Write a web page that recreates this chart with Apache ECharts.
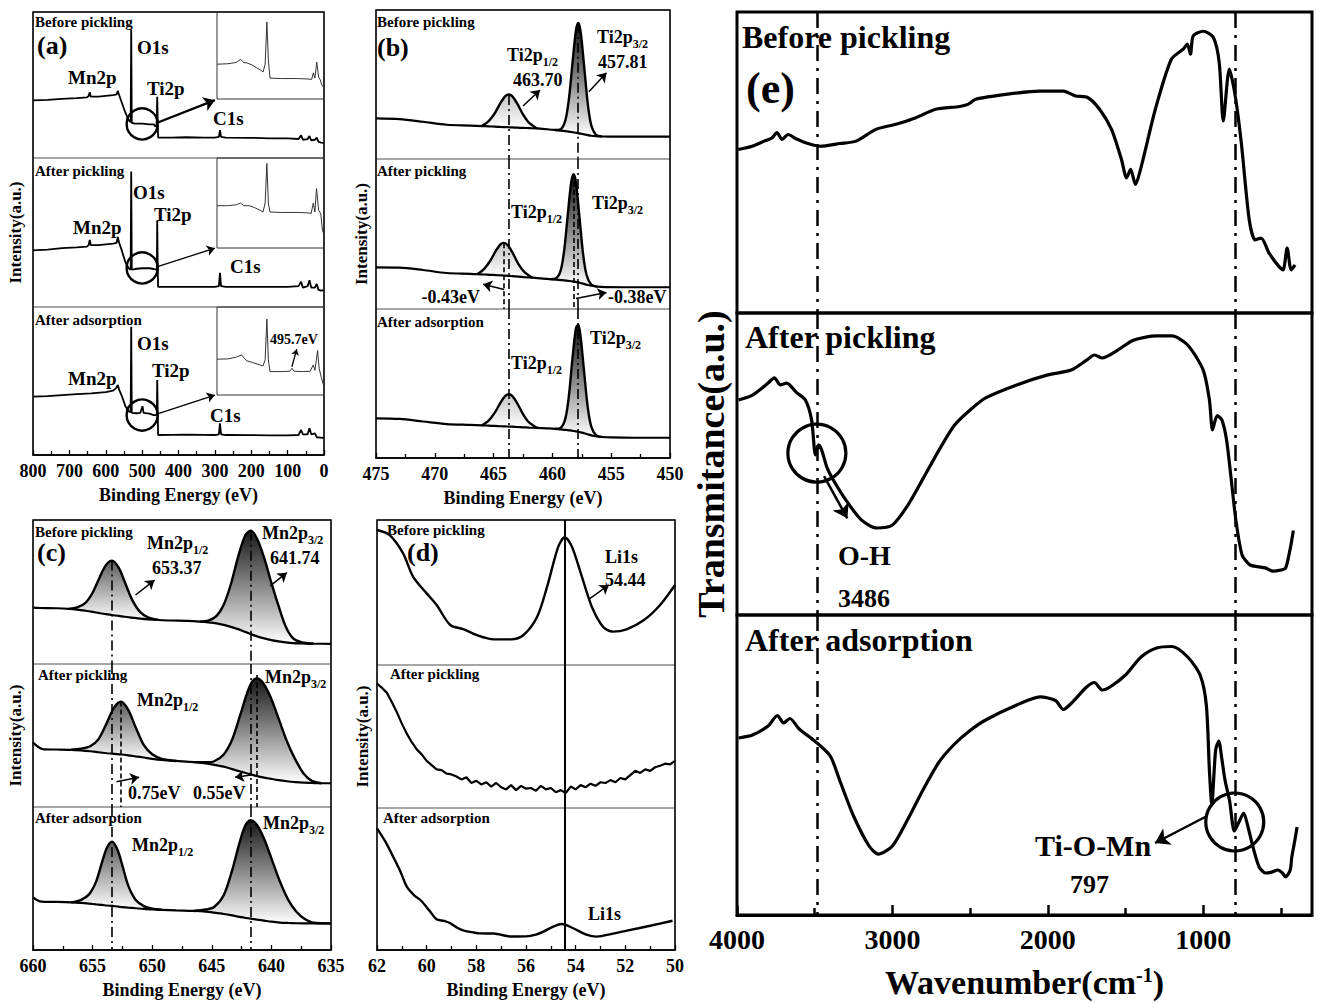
<!DOCTYPE html>
<html>
<head>
<meta charset="utf-8">
<title>XPS and FTIR spectra</title>
<script src="https://cdn.jsdelivr.net/npm/echarts@6/dist/echarts.min.js"></script>
<style>
  html, body { margin: 0; padding: 0; background: #fff; }
  #chart { width: 1329px; height: 1003px; }
</style>
</head>
<body>
<div id="chart"></div>
<script>
// ---------- (a) XPS survey: [binding energy (eV), relative intensity]
const surveyBefore = [[800,39.5],[760,39.8],[720,40.5],[680,41],[652,41.5],[647,42.5],[644,45],[641,42],[620,42],[600,42.5],[580,43],[570,43.5],[567,46],[563,43],[556,38],[546,31],[537,26],[531.5,24.5],[530,88],[528.5,24],[520,23.5],[500,23.5],[480,23],[468,23],[463,21.5],[460,23],[458.5,42],[457,24],[456,14],[420,14],[380,14.2],[330,14],[300,14],[289,14.5],[286,19],[283,14.5],[270,14],[200,13.8],[150,13.5],[100,13.5],[70,13],[63,15.5],[58,12.5],[45,13],[40,15],[35,12],[25,12.5],[20,14],[15,11],[8,10.5],[0,10.3]];
const surveyPickled = [[800,38],[760,38.5],[720,39.5],[680,40],[652,40.5],[647,41.5],[644,45],[641,41.5],[620,41.5],[600,42],[580,42.5],[570,43],[567,47],[563,43],[556,38],[546,30],[537,26],[531.5,25],[530,91],[528.5,25],[520,25.5],[500,26],[480,26],[468,25.5],[462,25],[459.5,26],[458.5,58],[457,25],[456,13.5],[420,13.5],[380,13.5],[330,13.5],[300,13.5],[289,14],[286,23],[283,14],[270,13.5],[200,13.5],[150,13.5],[100,13.5],[70,14],[63,17],[58,13],[45,14],[40,18],[35,13],[25,13],[20,15.5],[15,11.5],[8,11],[0,11.4]];
const surveyAdsorbed = [[800,39.4],[760,39.8],[720,40.5],[680,41.2],[640,41.7],[600,42.5],[580,43.5],[572,45],[567,47.3],[563,44],[556,40],[546,33],[537,29.5],[531.5,29],[530,86.7],[528.5,28.5],[515,28.2],[505,28.5],[499,33],[496,28.5],[480,28],[468,27],[462,27],[459.5,27.5],[458.5,50.7],[457,27],[456,13.5],[420,13.6],[380,13.8],[330,13.6],[300,13.5],[289,14],[286,21.4],[283,14],[270,13.5],[200,13.4],[150,13.3],[100,13.3],[70,13.5],[63,16.9],[58,14],[45,14],[40,18],[35,14],[25,14.6],[20,12],[10,11.8],[0,11.5]];
// insets: magnified window, x in % of inset width
const insetBefore = [[0,40],[10,40.5],[18,42],[22,45.5],[25,42],[28,41.5],[33,39],[37,36],[41,33],[43,31],[45,40],[46.6,88.5],[48,45],[49.5,24],[60,23.5],[75,23.5],[85,23],[88.5,22.5],[90,30],[91.5,24],[93.2,42.5],[95,25],[96.5,22],[98,16],[100,12.5]];
const insetPickled = [[0,47],[10,47],[18,48],[22,50],[25,47],[30,47],[35,45],[40,42],[43,40],[45,50],[46.6,94],[48,50],[49.5,40],[60,39.5],[75,39.5],[85,39],[88,38.5],[90,50],[91.5,40],[93,66],[95,42],[97,38],[98.5,20],[100,15]];
const insetAdsorbed = [[0,40.7],[10,41],[18,43],[23,45.6],[26,41],[28,38.8],[33,37],[40,34.2],[43,33],[45,40],[46.6,86.3],[48,40],[49.5,26.6],[60,26.6],[68,27],[70,30.4],[72,27],[80,26.6],[87,27],[90,34.2],[91.5,28],[94,50.6],[95.5,30],[97.5,20],[99.5,11.4]];

// ---------- (b) Ti2p: energies, background and fitted components (height above background)
const tiE1 = [475,473,471,469,467,466,465.4,464.9,464.4,464.0,463.7,463.4,463.0,462.5,462.0,461.3,460.5,459.8,459.3,458.9,458.6,458.3,458.0,457.8,457.6,457.3,457.0,456.7,456.3,455.8,455,453,450];
const tiBg1 = [27.3,26.8,25,23,22.4,22.1,21.9,21.7,21.5,21.4,21.3,21.2,21.0,20.9,20.7,20.5,20,19.5,19,18.7,18.4,18.0,17.6,17.3,17.0,16.5,16.0,15.6,15.3,15.1,15,15,15];
const tiHalf1 = ['-','-','-','-','-',0,3.7,9,16.3,20.8,22,20.8,16.3,9,3.7,0,'-','-','-','-','-','-','-','-','-','-','-','-','-','-','-','-','-'];
const tiThree1 = ['-','-','-','-','-','-','-','-','-','-','-','-','-','-','-','-','-',0,1,7.2,21.6,45.7,68.5,74,68.5,45.7,21.6,7.2,1,0,'-','-','-'];
const tiE2 = [475,473,471,469,467,466.4,465.8,465.3,464.8,464.4,464.13,463.8,463.4,462.9,462.4,461.7,460.8,460.2,459.7,459.3,459.0,458.7,458.4,458.19,458.0,457.7,457.4,457.1,456.7,456.2,455.5,453,450];
const tiBg2 = [27.8,27.6,26,24,23.4,23.2,23,22.8,22.6,22.4,22.3,22.1,21.9,21.6,21.3,20.9,20.3,19.9,19.6,19.3,19.1,18.8,18.5,18.3,18.0,17.5,16.9,16.2,15.5,14.9,14.6,14.5,14.5];
const tiHalf2 = ['-','-','-','-','-',0,3.8,9.2,16.3,20.9,21.8,20.5,15.8,8.5,3.5,0,'-','-','-','-','-','-','-','-','-','-','-','-','-','-','-','-','-'];
const tiThree2 = ['-','-','-','-','-','-','-','-','-','-','-','-','-','-','-','-','-',0,0.8,6.3,19.8,43.4,66,71.5,66.5,44,20.4,6.6,0.8,0,'-','-','-'];
const tiE3 = tiE1;
const tiBg3 = [26.6,26.2,24.5,22.8,22.2,21.9,21.7,21.5,21.3,21.2,21.1,21.0,20.8,20.6,20.4,20.2,19.9,19.6,19.2,18.9,18.6,18.3,17.9,17.6,17.2,16.6,15.9,15.2,14.6,14.1,13.8,13.6,13.6];
const tiHalf3 = ['-','-','-','-','-',0,3.6,8.9,16.1,20.5,21.7,20.5,16.1,8.9,3.6,0,'-','-','-','-','-','-','-','-','-','-','-','-','-','-','-','-','-'];
const tiThree3 = ['-','-','-','-','-','-','-','-','-','-','-','-','-','-','-','-','-',0,1,7.5,23,48,69,72,64,41,18.5,6,0.8,0,'-','-','-'];
const tiPeaksBefore = [463.70, 457.81];
const tiPeaksPickled = [464.13, 458.19];

// ---------- (c) Mn2p
const mnE1 = [660,659.5,658,657,656.3,655.6,655.0,654.4,653.9,653.37,652.8,652.3,651.7,651.0,650.3,649.5,648.5,647,646,645.3,644.6,644.0,643.4,642.8,642.2,641.74,641.2,640.6,640.0,639.4,638.8,638.2,637.5,636.5,635];
const mnBg1 = [39.1,39,38.7,38.3,37.8,37,36.2,35.3,34.6,34,33.4,32.8,32.2,31.5,31,30.6,30.2,29.9,29.4,28.9,28.2,27.2,25.8,24.2,22.3,20.8,19.2,17.8,16.6,15.7,15,14.5,14.3,14.1,14];
const mnHalf1 = ['-','-','-',0,1.5,5.5,13.3,25,33.9,37.8,33.3,24.1,12.7,4.5,1.2,0,'-','-','-','-','-','-','-','-','-','-','-','-','-','-','-','-','-','-','-'];
const mnThree1 = ['-','-','-','-','-','-','-','-','-','-','-','-','-','-','-','-','-','-',0,1.2,5.2,14,29.6,50,67,71.8,67.8,55.7,39.7,24.6,11,3.5,0.8,0,'-'];
const mnE2 = [660,659.1,658,656.8,656.0,655.2,654.5,653.8,653.2,652.62,652.0,651.4,650.7,650.0,649.2,648,646.5,645.5,644.8,644.0,643.3,642.6,642.0,641.6,641.19,640.7,640.1,639.4,638.7,638.0,637.3,636.6,635.8,635];
const mnBg2 = [45,40.3,40.2,40,39.6,39,38.3,37.6,37.1,36.7,36.1,35.4,34.6,33.7,32.9,32.2,31.4,30.5,29.5,28.2,26.5,24.8,23.4,22.5,21.6,20.7,19.8,18.8,18,17.4,17,16.8,16.6,16.6];
const mnHalf2 = ['-','-','-',0,1.2,3.5,9.2,21.4,32.4,36.9,31.7,20.6,8.7,3.2,0.8,0,'-','-','-','-','-','-','-','-','-','-','-','-','-','-','-','-','-','-'];
const mnThree2 = ['-','-','-','-','-','-','-','-','-','-','-','-','-','-','-','-',0,0.8,2.5,8.5,20.5,39.9,57.2,65.3,68.3,66,57.6,43.2,28,15.9,6.5,1.5,0,'-'];
const mnE3 = [660,659.3,658,656.8,656.0,655.3,654.7,654.2,653.8,653.37,652.9,652.5,652.0,651.4,650.7,650.0,649.2,648,646.5,645.5,644.8,644.0,643.3,642.7,642.2,641.74,641.2,640.6,640.0,639.3,638.6,637.9,637.2,636.5,635];
const mnBg3 = [36.8,33.8,33.6,33.3,32.9,32.4,31.9,31.5,31.1,30.8,30.4,30.0,29.6,29.2,28.7,28.4,28.1,27.7,27.3,26.8,26.1,25.2,24.2,23.2,22.5,21.9,21.2,20.5,19.8,19.2,18.9,18.7,18.6,18.6,18.6];
const mnHalf3 = ['-','-','-',0,2,6.5,16.1,30.1,40.4,44.9,39.5,29,15.2,6,2,0.5,0,'-','-','-','-','-','-','-','-','-','-','-','-','-','-','-','-','-','-'];
const mnThree3 = ['-','-','-','-','-','-','-','-','-','-','-','-','-','-','-','-','-','-',0,1.5,4,13.1,31.3,51,64.4,68.9,66,57,44.3,29,16.3,8,3,0.5,0];
const mnPeaksBefore = [653.37, 641.74];
const mnPeaksPickled = [652.62, 641.19];

// ---------- (d) Li1s
const liBefore = [[62,93.1],[61.5,89.7],[60.95,77],[60.55,61],[60.0,49.4],[59.6,41.4],[59.05,27.6],[58.5,24.6],[58.0,20.7],[57.3,17.7],[56.6,17.7],[56.1,20.7],[55.55,33.3],[55.15,54],[54.7,81.6],[54.44,88.1],[54.15,81.6],[53.75,60.9],[53.35,40.2],[52.9,26.4],[52.5,23],[51.95,24.6],[51.25,31],[50.6,41.4],[50,55.2]];
const liPickled = [[62,87],[61.8,84],[61.6,80.5],[61.4,74],[61.2,67],[61.0,59],[60.8,52],[60.6,46],[60.4,41],[60.2,37.5],[60.0,33],[59.8,30],[59.6,27],[59.4,26.5],[59.2,24],[59.0,23.5],[58.8,22],[58.6,20],[58.4,21.5],[58.2,17.5],[58.0,19],[57.8,16.5],[57.6,18],[57.4,15],[57.2,17.5],[57.0,14.5],[56.8,13],[56.6,16],[56.4,12.5],[56.2,15.5],[56.0,13.5],[55.8,14],[55.6,12],[55.4,15.5],[55.2,13],[55.0,14],[54.8,11],[54.6,12.5],[54.4,10.5],[54.2,15],[54.0,13],[53.8,16],[53.6,14.5],[53.4,17],[53.2,15.5],[53.0,18],[52.8,17.5],[52.6,19.5],[52.4,18],[52.2,21],[52.0,20],[51.8,23],[51.6,26],[51.4,24.5],[51.2,27],[51.0,26],[50.8,28.5],[50.6,29.5],[50.4,31],[50.2,30.5],[50.0,33]];
const liAdsorbed = [[62,85.7],[61.65,76],[61.35,65.7],[61.05,55],[60.8,44.6],[60.5,38.5],[60.25,35.2],[59.9,28],[59.6,21.6],[59.3,20.5],[59.05,18.8],[58.75,15.5],[58.5,13.6],[58.1,12.3],[57.85,11.7],[57.3,11.6],[56.6,9.5],[56.0,9.6],[55.6,10.8],[55.3,12.9],[54.9,16.5],[54.56,18.3],[54.1,15.3],[53.6,11],[53.15,9.4],[52.5,11.5],[51.94,13.6],[51.0,17.1],[50.1,20.6]];
const liPeak = 54.44;

// ---------- (e) FTIR: wavenumber (cm-1) and transmittance
const irWave1 = [3992,3902,3825,3774,3743,3710,3671,3620,3543,3466,3337,3234,3106,2977,2849,2721,2567,2515,2464,2258,2053,1899,1822,1744,1667,1590,1526,1493,1467,1436,1398,1308,1205,1128,1102,1082,1064,999,935,897,871,832,794,755,704,666,627,576,512,486,460,434,409];
const irBefore = [54.3,55.4,57.1,58.2,59.9,57.7,59.3,57.9,56.3,55.4,56.3,57.1,61,62.7,64.9,67.7,68.6,69.3,71,72.7,73.7,73.7,72.1,71.6,67.7,61,51,44.9,47.7,42.7,48.8,67.7,84.3,87.7,89.3,86,92.1,93.6,91.6,83.2,63.8,81,72.1,56.6,31,24.3,24.9,19.9,15.4,14.3,21.6,14.3,16];
const irWave2 = [3990,3900,3800,3760,3720,3680,3620,3560,3520,3495,3475,3455,3420,3380,3300,3200,3100,3000,2900,2800,2700,2600,2500,2400,2200,2000,1850,1750,1700,1650,1550,1450,1300,1200,1100,1000,960,940,910,880,850,820,790,750,700,650,600,550,500,470,440,420];
const irPickled = [71.2,72.8,76.8,78.5,76.2,76.8,73.8,71.2,64.6,53,56.3,54.6,48.7,44.7,38.1,31.5,28.8,29.8,36.4,45.4,54.6,62.9,67.9,71.9,76.2,79.5,81.1,84.4,86.1,85.1,87.7,91,92.4,92.4,89.4,81.1,71.2,61.3,66,64.6,58,45,31.5,19.9,16.6,16,15.6,14.5,14.9,15.5,22,28];
const irWave3 = [3990,3900,3800,3740,3700,3660,3600,3500,3400,3340,3250,3150,3090,3000,2900,2800,2700,2600,2500,2400,2200,2050,1950,1900,1850,1750,1700,1650,1600,1500,1400,1300,1200,1100,1020,980,960,945,920,900,880,860,830,800,770,740,710,680,640,600,560,520,490,470,440,430,410,396];
const irAdsorbed = [59,60,63,66.5,64,65.5,62,58,53,45,33,23,20.3,23,32,42,51,57,61.5,65,70,72.7,71.5,68.5,70.5,76,77.5,75,76,80,86,89,89.5,86,80,70,48,37,55,58,52,45,38,28,31,34,29,22.7,16,14,14.3,15,14,12.7,15,19.3,25,29.3];
const irBands = [3486, 797];
const irMajorTicks = [1000, 2000, 3000, 4000];
const irMinorTicks = [500, 1500, 2500, 3500];

const BLACK = '#000';
const FONT = '"Liberation Serif","Times New Roman",serif';
const pairs = (xs, ys) => xs.map((x, i) => [x, ys[i]]);

const chart = echarts.init(document.getElementById('chart'), null, { renderer: 'svg' });
const option = { animation: false, backgroundColor: '#fff', grid: [], xAxis: [], yAxis: [], series: [], graphic: [] };

function addGrid(left, top, width, height, color, bw) {
  option.grid.push({ left, top, width, height, show: true, borderColor: color, borderWidth: bw,
    backgroundColor: 'rgba(0,0,0,0)', containLabel: false, outerBoundsMode: 'none' });
  return option.grid.length - 1;
}
function addAxes(gi, xr, xo, yo, inv) {
  option.xAxis.push(Object.assign({ gridIndex: gi, type: 'value', min: xr[0], max: xr[1], inverse: inv !== false, show: false, splitLine: { show: false } }, xo || {}));
  option.yAxis.push(Object.assign({ gridIndex: gi, type: 'value', min: 0, max: 100, show: false, splitLine: { show: false } }, yo || {}));
  return { x: option.xAxis.length - 1, y: option.yAxis.length - 1, g: gi };
}
function xpsAxis(iv) {
  return { show: true, position: 'bottom', interval: iv,
    axisLine: { show: true, onZero: false, lineStyle: { color: BLACK, width: 1.5 } },
    axisTick: { show: true, inside: true, length: 5, lineStyle: { color: BLACK, width: 1.3 } },
    minorTick: { show: true, splitNumber: 2, length: 4, lineStyle: { color: BLACK, width: 1.3 } },
    minorSplitLine: { show: false },
    axisLabel: { show: true, color: BLACK, fontFamily: FONT, fontWeight: 'bold', fontSize: 18, margin: 7, formatter: v => String(v) },
    name: 'Binding Energy (eV)', nameLocation: 'middle', nameGap: 31,
    nameTextStyle: { color: BLACK, fontFamily: FONT, fontWeight: 'bold', fontSize: 18 } };
}
function yName(text, size, gap) {
  return { show: true, axisLine: { show: false }, axisTick: { show: false }, axisLabel: { show: false },
    name: text, nameLocation: 'middle', nameGap: gap, nameRotate: 90,
    nameTextStyle: { color: BLACK, fontFamily: FONT, fontWeight: 'bold', fontSize: size } };
}
function buildPanel(P, o) {
  const out = [];
  for (let k = 0; k < 3; k++) {
    const top = P.tops[k];
    const h = (k < 2 ? P.tops[k + 1] : P.bottom) - top;
    const gi = addGrid(P.left, top, P.width, h, o.divColor, o.divWidth);
    out.push(addAxes(gi, P.x, k === 2 ? o.bottomAxis : null, k === 1 ? o.yName : null));
  }
  if (o.frame) addGrid(P.left, P.tops[0], P.width, P.bottom - P.tops[0], BLACK, o.frame);
  return out;
}

function line(ax, data, extra) {
  const s = Object.assign({ type: 'line', xAxisIndex: ax.x, yAxisIndex: ax.y, data, symbol: 'none', smooth: false,
    lineStyle: { color: BLACK, width: 2.2 }, silent: true, z: 3 }, extra || {});
  option.series.push(s);
  return s;
}
function grad(top) {
  return new echarts.graphic.LinearGradient(0, 0, 0, 1, [{ offset: 0, color: top }, { offset: 1, color: '#ffffff' }]);
}
// background line + fitted components; each component is filled between background and envelope
function fitted(ax, xs, bg, comps, colors) {
  const base = line(ax, pairs(xs, bg), { smooth: 0.3, z: 4, lineStyle: { color: BLACK, width: 2.2 } });
  comps.forEach((p, c) => {
    const idx = p.map((v, i) => (v === '-' ? -1 : i)).filter(i => i >= 0);
    const env = bg.map((b, i) => (p[i] === '-' ? '-' : b + p[i]));
    option.series.push({ type: 'custom', xAxisIndex: ax.x, yAxisIndex: ax.y, silent: true, z: 1,
      data: [[xs[idx[0]], bg[idx[0]]]],
      renderItem: (params, api) => {
        const top = idx.map(i => api.coord([xs[i], env[i]]));
        const bot = idx.slice().reverse().map(i => api.coord([xs[i], bg[i]]));
        return { type: 'polygon', shape: { points: top.concat(bot) }, style: { fill: grad(colors[c]), stroke: null } };
      } });
    line(ax, pairs(xs, env), { smooth: 0.3, z: 3, lineStyle: { color: BLACK, width: 2.4 } });
  });
  return base;
}
function marks(series, items, size) {
  series.markLine = { silent: true, animation: false, symbol: ['none', 'none'], symbolSize: size || 9,
    label: { show: false }, emphasis: { disabled: true }, data: items };
}
const DASHDOT = [10, 4, 2, 4];
const DASH = [5, 3];
function vline(x, y0, y1, type, width) {
  return [{ coord: [x, y0], lineStyle: { type, width: width || 1.6, color: BLACK } }, { coord: [x, y1] }];
}
function arrow(x0, y0, x1, y1, width, curve) {
  return [{ coord: [x0, y0], symbol: 'none', lineStyle: { type: 'solid', width: width || 1.5, color: BLACK, curveness: curve || 0 } },
          { coord: [x1, y1], symbol: 'arrow' }];
}
function ring(ax, x, y, size, bw) {
  option.series.push({ type: 'scatter', xAxisIndex: ax.x, yAxisIndex: ax.y, data: [[x, y]], symbol: 'circle', symbolSize: size,
    itemStyle: { color: 'rgba(0,0,0,0)', borderColor: BLACK, borderWidth: bw, opacity: 1 }, silent: true, z: 6 });
}
function txt(x, y, text, size, extra) {
  option.graphic.push({ type: 'text', x, y, z: 100, silent: true,
    style: Object.assign({ text, fill: BLACK, fontSize: size, fontWeight: 'bold', fontFamily: FONT,
      align: 'left', verticalAlign: 'middle', textAlign: 'left', textVerticalAlign: 'middle' }, extra || {}) });
}
function subTxt(x, y, main, sub, size) {
  const s = Math.round(size * 0.66);
  txt(x, y, '{m|' + main + '}{s|' + sub + '}', size, { rich: {
    m: { fontSize: size, fontWeight: 'bold', fontFamily: FONT, lineHeight: size + 8 },
    s: { fontSize: s, fontWeight: 'bold', fontFamily: FONT, lineHeight: s, verticalAlign: 'bottom' } } });
}

// ---------------- panel (a)
const A = buildPanel({ left: 33, width: 291, tops: [12, 158, 307], bottom: 455, x: [0, 800] },
  { divColor: '#888', divWidth: 1, frame: 1.5, bottomAxis: xpsAxis(100), yName: yName('Intensity(a.u.)', 17, 9) });
const surveys = [surveyBefore, surveyPickled, surveyAdsorbed];
const insets = [insetBefore, insetPickled, insetAdsorbed];
const insetBoxes = [[12, 87], [158, 90], [307, 88]];
const circleY = [23.3, 26.2, 27];
const arrowEndY = [39.6, 39.5, 40.5];
surveys.forEach((d, k) => {
  const s = line(A[k], d, { lineStyle: { color: BLACK, width: 1.8 } });
  marks(s, [arrow(462, circleY[k] + 0.5, 300, arrowEndY[k], k === 0 ? 2.4 : 1.3)], k === 0 ? 11 : 8);
  ring(A[k], 500, circleY[k], 31, 2.4);
  const gi = addGrid(217, insetBoxes[k][0], 107, insetBoxes[k][1], '#333', 1);
  const ax = addAxes(gi, [0, 100], null, null, false);
  const si = line(ax, insets[k], { lineStyle: { color: '#333', width: 1 } });
  if (k === 2) marks(si, [arrow(70, 32, 74.5, 52, 1.3)], 6);
});

// ---------------- panel (b)
const B = buildPanel({ left: 376, width: 294, tops: [10, 159, 309], bottom: 458, x: [450, 475] },
  { divColor: '#888', divWidth: 1, frame: 1.5, bottomAxis: xpsAxis(5), yName: yName('Intensity(a.u.)', 17, 6) });
const tiColors = ['#c4c4c4', '#111'];
const b1 = fitted(B[0], tiE1, tiBg1, [tiHalf1, tiThree1], tiColors);
const b2 = fitted(B[1], tiE2, tiBg2, [tiHalf2, tiThree2], tiColors);
const b3 = fitted(B[2], tiE3, tiBg3, [tiHalf3, tiThree3], tiColors);
marks(b1, [vline(tiPeaksBefore[0], 43, 0, DASHDOT), vline(tiPeaksBefore[1], 91.5, 0, DASHDOT),
  arrow(462.5, 35.6, 461.05, 46.3, 1.5), arrow(456.9, 45.2, 455.4, 57.9, 1.5)]);
marks(b2, [vline(tiPeaksBefore[0], 100, 0, DASHDOT), vline(tiPeaksBefore[1], 100, 0, DASHDOT),
  vline(tiPeaksPickled[0], 43.8, 0, DASH), vline(tiPeaksPickled[1], 90, 0, DASH),
  arrow(464.1, 13, 465.9, 16.5, 1.5, 0.4), arrow(458.0, 7, 455.4, 11, 1.5, -0.4)]);
marks(b3, [vline(tiPeaksBefore[0], 100, 0, DASHDOT), vline(tiPeaksBefore[1], 100, 0, DASHDOT)]);

// ---------------- panel (c)
const C = buildPanel({ left: 33, width: 298, tops: [520, 664, 807], bottom: 950, x: [635, 660] },
  { divColor: '#888', divWidth: 1, frame: 1.5, bottomAxis: xpsAxis(5), yName: yName('Intensity(a.u.)', 17, 9) });
const mnColors = ['#5a5a5a', '#161616'];
const c1 = fitted(C[0], mnE1, mnBg1, [mnHalf1, mnThree1], mnColors);
const c2 = fitted(C[1], mnE2, mnBg2, [mnHalf2, mnThree2], mnColors);
const c3 = fitted(C[2], mnE3, mnBg3, [mnHalf3, mnThree3], mnColors);
marks(c1, [vline(mnPeaksBefore[0], 71.8, 0, DASHDOT), vline(mnPeaksBefore[1], 92.6, 0, DASHDOT),
  arrow(651.4, 47.9, 649.8, 58.3, 1.5), arrow(640.1, 54.2, 638.7, 63.4, 1.5)]);
marks(c2, [vline(mnPeaksBefore[0], 100, 0, DASHDOT), vline(mnPeaksBefore[1], 100, 0, DASHDOT),
  vline(mnPeaksPickled[0], 73.7, 0, DASH), vline(mnPeaksPickled[1], 92.3, 0, DASH),
  arrow(653.0, 17.7, 651.1, 20.8, 1.5, -0.4), arrow(641.7, 22.4, 643.05, 20.8, 1.5, 0.4)]);
marks(c3, [vline(mnPeaksBefore[0], 100, 0, DASHDOT), vline(mnPeaksBefore[1], 100, 0, DASHDOT)]);

// ---------------- panel (d)
const D = buildPanel({ left: 377, width: 298, tops: [520, 665, 808], bottom: 950, x: [50, 62] },
  { divColor: '#888', divWidth: 1, frame: 1.5, bottomAxis: xpsAxis(2), yName: yName('Intensity(a.u.)', 17, 6) });
const d1 = line(D[0], liBefore, { smooth: 0.3, lineStyle: { color: BLACK, width: 2.4 } });
const d2 = line(D[1], liPickled, { lineStyle: { color: BLACK, width: 2.2 } });
const d3 = line(D[2], liAdsorbed, { smooth: 0.3, lineStyle: { color: BLACK, width: 2.4 } });
marks(d1, [vline(liPeak, 100, 0, 'solid', 2), arrow(53.46, 45.5, 52.66, 55.2, 1.5)]);
marks(d2, [vline(liPeak, 100, 0, 'solid', 2)]);
marks(d3, [vline(liPeak, 100, 0, 'solid', 2)]);

// ---------------- panel (e)
const irAxis = { show: true, position: 'bottom',
  axisLine: { show: true, onZero: false, lineStyle: { color: BLACK, width: 3 } },
  axisTick: { show: true, inside: true, length: 10, customValues: irMajorTicks, lineStyle: { color: BLACK, width: 2.5 } },
  axisLabel: { show: true, customValues: irMajorTicks, color: BLACK, fontFamily: FONT, fontWeight: 'bold', fontSize: 28, margin: 10, formatter: v => String(v) },
  name: 'Wavenumber(cm{sup|-1})', nameLocation: 'middle', nameGap: 50,
  nameTextStyle: { color: BLACK, fontFamily: FONT, fontWeight: 'bold', fontSize: 34,
    rich: { sup: { fontFamily: FONT, fontWeight: 'bold', fontSize: 20, verticalAlign: 'top', lineHeight: 14 } } } };
const E = buildPanel({ left: 737, width: 575, tops: [12, 313, 615], bottom: 915, x: [300, 4000] },
  { divColor: BLACK, divWidth: 3, frame: 0, bottomAxis: irAxis, yName: yName('Transmitance(a.u.)', 38, 7) });
option.xAxis.push({ gridIndex: E[2].g, type: 'value', min: 300, max: 4000, inverse: true, position: 'bottom', show: true,
  axisLine: { show: false }, axisLabel: { show: false }, splitLine: { show: false },
  axisTick: { show: true, inside: true, length: 7, customValues: irMinorTicks, lineStyle: { color: BLACK, width: 2.5 } } });
const irSets = [[irWave1, irBefore], [irWave2, irPickled], [irWave3, irAdsorbed]];
const irDD = [16, 7, 3, 7];
irSets.forEach((set, k) => {
  const s = line(E[k], pairs(set[0], set[1]), { smooth: 0.25, lineStyle: { color: BLACK, width: 3.2 } });
  const items = [vline(irBands[0], 100, 0, irDD, 2.5), vline(irBands[1], 100, 0, irDD, 2.5)];
  if (k === 1) items.push(arrow(3440, 46, 3290, 32, 2.5));
  if (k === 2) items.push(arrow(975, 33, 1310, 24, 2.5));
  marks(s, items, 14);
});
ring(E[1], irBands[0], 53.6, 58, 3.2);
ring(E[2], irBands[1], 31, 58, 3.2);

// ---------------- text annotations
txt(35, 22, 'Before pickling', 15); txt(37, 45, '(a)', 26);
txt(137, 47, 'O1s', 19); txt(68, 77, 'Mn2p', 19); txt(147, 88, 'Ti2p', 19); txt(213, 118, 'C1s', 19);
txt(35, 171, 'After pickling', 15);
txt(133, 192, 'O1s', 19); txt(73, 227, 'Mn2p', 19); txt(154, 214, 'Ti2p', 19); txt(230, 266, 'C1s', 19);
txt(35, 320, 'After adsorption', 15);
txt(137, 343, 'O1s', 19); txt(68, 378, 'Mn2p', 19); txt(152, 370, 'Ti2p', 19); txt(210, 415, 'C1s', 19);
txt(270, 339, '495.7eV', 14);

txt(377, 22, 'Before pickling', 15); txt(377, 47, '(b)', 26);
subTxt(507, 55, 'Ti2p', '1/2', 18); txt(513, 80, tiPeaksBefore[0].toFixed(2), 18);
subTxt(597, 37, 'Ti2p', '3/2', 18); txt(598, 62, tiPeaksBefore[1].toFixed(2), 18);
txt(377, 171, 'After pickling', 15);
subTxt(511, 212, 'Ti2p', '1/2', 18); subTxt(592, 203, 'Ti2p', '3/2', 18);
txt(480, 297, '-0.43eV', 18, { align: 'right', textAlign: 'right' }); txt(608, 297, '-0.38eV', 18);
txt(377, 322, 'After adsorption', 15);
subTxt(511, 363, 'Ti2p', '1/2', 18); subTxt(590, 338, 'Ti2p', '3/2', 18);

txt(35, 532, 'Before pickling', 15); txt(37, 552, '(c)', 26);
subTxt(147, 543, 'Mn2p', '1/2', 18); txt(152, 568, mnPeaksBefore[0].toFixed(2), 18);
subTxt(262, 533, 'Mn2p', '3/2', 18); txt(270, 558, mnPeaksBefore[1].toFixed(2), 18);
txt(38, 675, 'After pickling', 15);
subTxt(137, 700, 'Mn2p', '1/2', 18); subTxt(265, 677, 'Mn2p', '3/2', 18);
txt(128, 793, '0.75eV', 18); txt(193, 793, '0.55eV', 18);
txt(35, 818, 'After adsorption', 15);
subTxt(132, 845, 'Mn2p', '1/2', 18); subTxt(263, 823, 'Mn2p', '3/2', 18);

txt(387, 530, 'Before pickling', 15); txt(407, 552, '(d)', 26);
txt(605, 557, 'Li1s', 18); txt(605, 580, liPeak.toFixed(2), 18);
txt(390, 674, 'After pickling', 15);
txt(383, 818, 'After adsorption', 15);
txt(588, 914, 'Li1s', 18);

txt(742, 37, 'Before pickling', 32); txt(746, 88, '(e)', 44);
txt(745, 337, 'After pickling', 32);
txt(745, 640, 'After adsorption', 32);
txt(838, 555, 'O-H', 28); txt(838, 598, String(irBands[0]), 26);
txt(1035, 845, 'Ti-O-Mn', 30); txt(1070, 884, String(irBands[1]), 26);

chart.setOption(option);
</script>
</body>
</html>
